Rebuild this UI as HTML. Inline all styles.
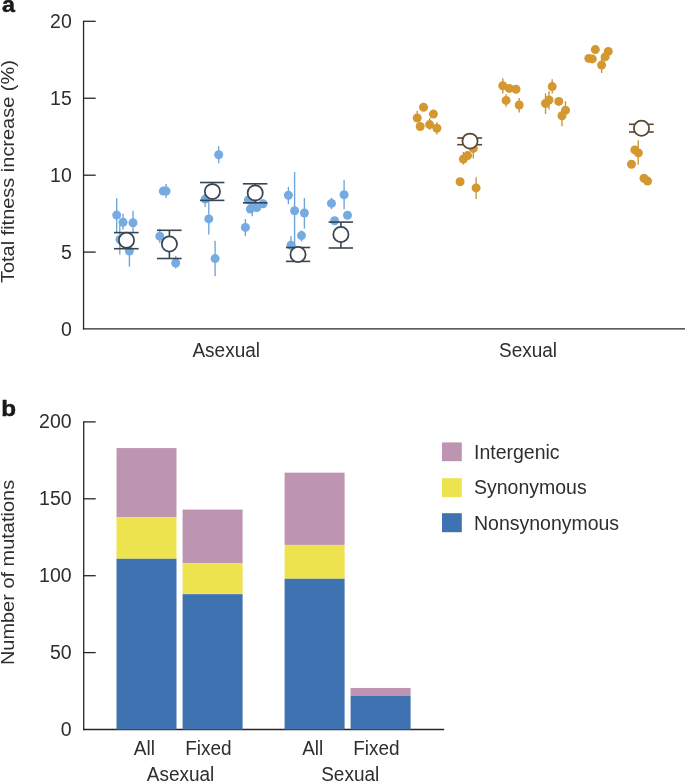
<!DOCTYPE html>
<html><head><meta charset="utf-8"><style>
html,body{margin:0;padding:0;background:#fff;}
svg{display:block;will-change:transform;}
text{font-family:"Liberation Sans",sans-serif;fill:#2e2e2e;}
.t{font-size:19px;}
.tk{font-size:19.5px;}
.lg{font-size:19.5px;}
.yl{font-size:19.2px;}
.pl{font-size:22px;font-weight:bold;fill:#1a1a1a;stroke:#1a1a1a;stroke-width:0.45px;}
</style></head><body>
<svg width="685" height="782" viewBox="0 0 685 782">
<rect width="685" height="782" fill="#fff"/>
<line x1="83.55" y1="20.7" x2="83.55" y2="329.55" stroke="#262626" stroke-width="1.3"/>
<line x1="82.9" y1="328.9" x2="685" y2="328.9" stroke="#262626" stroke-width="1.3"/>
<line x1="83.55" y1="21.3" x2="95.7" y2="21.3" stroke="#262626" stroke-width="1.3"/>
<text transform="translate(71.8,27.9) scale(1,1.06)" text-anchor="end" class="tk">20</text>
<line x1="83.55" y1="98.25" x2="95.7" y2="98.25" stroke="#262626" stroke-width="1.3"/>
<text transform="translate(71.8,104.85) scale(1,1.06)" text-anchor="end" class="tk">15</text>
<line x1="83.55" y1="175.2" x2="95.7" y2="175.2" stroke="#262626" stroke-width="1.3"/>
<text transform="translate(71.8,181.8) scale(1,1.06)" text-anchor="end" class="tk">10</text>
<line x1="83.55" y1="252.1" x2="95.7" y2="252.1" stroke="#262626" stroke-width="1.3"/>
<text transform="translate(71.8,258.7) scale(1,1.06)" text-anchor="end" class="tk">5</text>
<text transform="translate(71.8,335.65) scale(1,1.06)" text-anchor="end" class="tk">0</text>
<line x1="116.7" y1="198.3" x2="116.7" y2="232" stroke="#6ea4da" stroke-width="1.35"/>
<line x1="123" y1="213.6" x2="123" y2="229.7" stroke="#6ea4da" stroke-width="1.35"/>
<line x1="133" y1="210.7" x2="133" y2="232" stroke="#6ea4da" stroke-width="1.35"/>
<line x1="129.4" y1="247.6" x2="129.4" y2="266.6" stroke="#6ea4da" stroke-width="1.35"/>
<line x1="166.1" y1="184" x2="166.1" y2="197.9" stroke="#6ea4da" stroke-width="1.35"/>
<line x1="159.8" y1="229" x2="159.8" y2="243" stroke="#6ea4da" stroke-width="1.35"/>
<line x1="175.7" y1="255.9" x2="175.7" y2="268.6" stroke="#6ea4da" stroke-width="1.35"/>
<line x1="218.7" y1="146.3" x2="218.7" y2="163.3" stroke="#6ea4da" stroke-width="1.35"/>
<line x1="205.2" y1="195" x2="205.2" y2="207" stroke="#6ea4da" stroke-width="1.35"/>
<line x1="208.8" y1="201" x2="208.8" y2="234.6" stroke="#6ea4da" stroke-width="1.35"/>
<line x1="215.1" y1="240.7" x2="215.1" y2="276.2" stroke="#6ea4da" stroke-width="1.35"/>
<line x1="245.4" y1="219" x2="245.4" y2="236.2" stroke="#6ea4da" stroke-width="1.35"/>
<line x1="288.4" y1="186.8" x2="288.4" y2="204.3" stroke="#6ea4da" stroke-width="1.35"/>
<line x1="294.6" y1="172" x2="294.6" y2="246.5" stroke="#6ea4da" stroke-width="1.35"/>
<line x1="304.4" y1="197.9" x2="304.4" y2="228.6" stroke="#6ea4da" stroke-width="1.35"/>
<line x1="301.5" y1="230.5" x2="301.5" y2="241.4" stroke="#6ea4da" stroke-width="1.35"/>
<line x1="291" y1="236.3" x2="291" y2="250" stroke="#6ea4da" stroke-width="1.35"/>
<line x1="344.1" y1="180.1" x2="344.1" y2="209.2" stroke="#6ea4da" stroke-width="1.35"/>
<line x1="331.5" y1="197.6" x2="331.5" y2="209.2" stroke="#6ea4da" stroke-width="1.35"/>
<line x1="119.8" y1="224.5" x2="119.8" y2="254.5" stroke="#6ea4da" stroke-width="1.35"/>
<line x1="252.2" y1="205" x2="252.2" y2="216.2" stroke="#6ea4da" stroke-width="1.35"/>
<circle cx="116.7" cy="215.1" r="4.5" fill="#75abe0"/>
<circle cx="123" cy="222.2" r="4.5" fill="#75abe0"/>
<circle cx="133" cy="222.8" r="4.5" fill="#75abe0"/>
<circle cx="120" cy="239.5" r="4.5" fill="#75abe0"/>
<circle cx="129.4" cy="251" r="4.5" fill="#75abe0"/>
<circle cx="163.3" cy="191.1" r="4.5" fill="#75abe0"/>
<circle cx="166.1" cy="191.1" r="4.5" fill="#75abe0"/>
<circle cx="159.8" cy="236.2" r="4.5" fill="#75abe0"/>
<circle cx="175.7" cy="263" r="4.5" fill="#75abe0"/>
<circle cx="218.7" cy="154.7" r="4.5" fill="#75abe0"/>
<circle cx="205.2" cy="199.1" r="4.5" fill="#75abe0"/>
<circle cx="208.8" cy="218.9" r="4.5" fill="#75abe0"/>
<circle cx="215.1" cy="258.6" r="4.5" fill="#75abe0"/>
<circle cx="248.4" cy="199.9" r="4.5" fill="#75abe0"/>
<circle cx="253" cy="202.2" r="4.5" fill="#75abe0"/>
<circle cx="263" cy="203.7" r="4.5" fill="#75abe0"/>
<circle cx="256.8" cy="207.6" r="4.5" fill="#75abe0"/>
<circle cx="250.3" cy="209.1" r="4.5" fill="#75abe0"/>
<circle cx="245.4" cy="227.4" r="4.5" fill="#75abe0"/>
<circle cx="288.4" cy="195.3" r="4.5" fill="#75abe0"/>
<circle cx="294.6" cy="210.7" r="4.5" fill="#75abe0"/>
<circle cx="304.4" cy="213" r="4.5" fill="#75abe0"/>
<circle cx="301.5" cy="235.6" r="4.5" fill="#75abe0"/>
<circle cx="291" cy="245.2" r="4.5" fill="#75abe0"/>
<circle cx="344.1" cy="194.8" r="4.5" fill="#75abe0"/>
<circle cx="331.5" cy="203.4" r="4.5" fill="#75abe0"/>
<circle cx="347.5" cy="215.2" r="4.5" fill="#75abe0"/>
<circle cx="334.6" cy="220.7" r="4.5" fill="#75abe0"/>
<line x1="126.5" y1="232.6" x2="126.5" y2="248.7" stroke="#384552" stroke-width="1.6"/>
<line x1="114" y1="232.6" x2="138.6" y2="232.6" stroke="#384552" stroke-width="1.6"/>
<line x1="114" y1="248.7" x2="138.6" y2="248.7" stroke="#384552" stroke-width="1.6"/>
<circle cx="126.5" cy="240.3" r="7.6" fill="#fff" stroke="#384552" stroke-width="1.75"/>
<line x1="169.4" y1="230.3" x2="169.4" y2="258.5" stroke="#384552" stroke-width="1.6"/>
<line x1="157" y1="230.3" x2="181.6" y2="230.3" stroke="#384552" stroke-width="1.6"/>
<line x1="157" y1="258.5" x2="181.6" y2="258.5" stroke="#384552" stroke-width="1.6"/>
<circle cx="169.4" cy="244" r="7.6" fill="#fff" stroke="#384552" stroke-width="1.75"/>
<line x1="212.4" y1="182.5" x2="212.4" y2="200.4" stroke="#384552" stroke-width="1.6"/>
<line x1="199.9" y1="182.5" x2="224.4" y2="182.5" stroke="#384552" stroke-width="1.6"/>
<line x1="199.9" y1="200.4" x2="224.4" y2="200.4" stroke="#384552" stroke-width="1.6"/>
<circle cx="212.4" cy="191.6" r="7.6" fill="#fff" stroke="#384552" stroke-width="1.75"/>
<line x1="255.2" y1="183.8" x2="255.2" y2="202.8" stroke="#384552" stroke-width="1.6"/>
<line x1="242.9" y1="183.8" x2="267.4" y2="183.8" stroke="#384552" stroke-width="1.6"/>
<line x1="242.9" y1="202.8" x2="267.4" y2="202.8" stroke="#384552" stroke-width="1.6"/>
<circle cx="255.2" cy="192.9" r="7.6" fill="#fff" stroke="#384552" stroke-width="1.75"/>
<line x1="298" y1="247.5" x2="298" y2="261.4" stroke="#384552" stroke-width="1.6"/>
<line x1="285.9" y1="247.5" x2="310.2" y2="247.5" stroke="#384552" stroke-width="1.6"/>
<line x1="285.9" y1="261.4" x2="310.2" y2="261.4" stroke="#384552" stroke-width="1.6"/>
<circle cx="298" cy="254.5" r="7.6" fill="#fff" stroke="#384552" stroke-width="1.75"/>
<line x1="340.9" y1="222.1" x2="340.9" y2="248" stroke="#384552" stroke-width="1.6"/>
<line x1="328.6" y1="222.1" x2="353" y2="222.1" stroke="#384552" stroke-width="1.6"/>
<line x1="328.6" y1="248" x2="353" y2="248" stroke="#384552" stroke-width="1.6"/>
<circle cx="340.9" cy="234.5" r="7.6" fill="#fff" stroke="#384552" stroke-width="1.75"/>
<line x1="417.2" y1="110.8" x2="417.2" y2="122" stroke="#c6923a" stroke-width="1.35"/>
<line x1="429.6" y1="118" x2="429.6" y2="129.8" stroke="#c6923a" stroke-width="1.35"/>
<line x1="436.9" y1="122.3" x2="436.9" y2="134.4" stroke="#c6923a" stroke-width="1.35"/>
<line x1="473.3" y1="140" x2="473.3" y2="158.6" stroke="#c6923a" stroke-width="1.35"/>
<line x1="463.4" y1="152" x2="463.4" y2="164.6" stroke="#c6923a" stroke-width="1.35"/>
<line x1="476.1" y1="177.3" x2="476.1" y2="198.9" stroke="#c6923a" stroke-width="1.35"/>
<line x1="502.8" y1="78.2" x2="502.8" y2="93.6" stroke="#c6923a" stroke-width="1.35"/>
<line x1="506.1" y1="94.2" x2="506.1" y2="106.8" stroke="#c6923a" stroke-width="1.35"/>
<line x1="519.2" y1="98" x2="519.2" y2="112.6" stroke="#c6923a" stroke-width="1.35"/>
<line x1="552.2" y1="79.2" x2="552.2" y2="93.6" stroke="#c6923a" stroke-width="1.35"/>
<line x1="549" y1="91.2" x2="549" y2="109.5" stroke="#c6923a" stroke-width="1.35"/>
<line x1="545.5" y1="93.3" x2="545.5" y2="114" stroke="#c6923a" stroke-width="1.35"/>
<line x1="565.5" y1="101.4" x2="565.5" y2="112" stroke="#c6923a" stroke-width="1.35"/>
<line x1="562" y1="110" x2="562" y2="126.3" stroke="#c6923a" stroke-width="1.35"/>
<line x1="601.6" y1="58" x2="601.6" y2="73" stroke="#c6923a" stroke-width="1.35"/>
<line x1="638.2" y1="140.2" x2="638.2" y2="164.7" stroke="#c6923a" stroke-width="1.35"/>
<circle cx="423.5" cy="107.2" r="4.5" fill="#d49831"/>
<circle cx="433.4" cy="114.1" r="4.5" fill="#d49831"/>
<circle cx="417.2" cy="118" r="4.5" fill="#d49831"/>
<circle cx="420.2" cy="126.5" r="4.5" fill="#d49831"/>
<circle cx="429.6" cy="124.6" r="4.5" fill="#d49831"/>
<circle cx="436.9" cy="128.2" r="4.5" fill="#d49831"/>
<circle cx="473.3" cy="148.4" r="4.5" fill="#d49831"/>
<circle cx="463.4" cy="159.1" r="4.5" fill="#d49831"/>
<circle cx="467.6" cy="155.6" r="4.5" fill="#d49831"/>
<circle cx="460.1" cy="181.8" r="4.5" fill="#d49831"/>
<circle cx="476.1" cy="187.9" r="4.5" fill="#d49831"/>
<circle cx="502.8" cy="85.8" r="4.5" fill="#d49831"/>
<circle cx="509.3" cy="88.4" r="4.5" fill="#d49831"/>
<circle cx="516" cy="89.3" r="4.5" fill="#d49831"/>
<circle cx="506.1" cy="100.4" r="4.5" fill="#d49831"/>
<circle cx="519.2" cy="105" r="4.5" fill="#d49831"/>
<circle cx="552.2" cy="86.6" r="4.5" fill="#d49831"/>
<circle cx="549" cy="100" r="4.5" fill="#d49831"/>
<circle cx="545.5" cy="103.5" r="4.5" fill="#d49831"/>
<circle cx="558.8" cy="101.4" r="4.5" fill="#d49831"/>
<circle cx="565.5" cy="110.2" r="4.5" fill="#d49831"/>
<circle cx="562" cy="115.8" r="4.5" fill="#d49831"/>
<circle cx="595.3" cy="49.6" r="4.5" fill="#d49831"/>
<circle cx="588.8" cy="58.4" r="4.5" fill="#d49831"/>
<circle cx="592.3" cy="58.9" r="4.5" fill="#d49831"/>
<circle cx="608.3" cy="51.4" r="4.5" fill="#d49831"/>
<circle cx="605.1" cy="56.9" r="4.5" fill="#d49831"/>
<circle cx="601.6" cy="65.1" r="4.5" fill="#d49831"/>
<circle cx="634.8" cy="149.9" r="4.5" fill="#d49831"/>
<circle cx="638.4" cy="152.9" r="4.5" fill="#d49831"/>
<circle cx="631.5" cy="164.2" r="4.5" fill="#d49831"/>
<circle cx="644" cy="178.3" r="4.5" fill="#d49831"/>
<circle cx="647.6" cy="181.1" r="4.5" fill="#d49831"/>
<line x1="470" y1="138" x2="470" y2="144.7" stroke="#5a4633" stroke-width="1.6"/>
<line x1="457.2" y1="138" x2="482.1" y2="138" stroke="#5a4633" stroke-width="1.6"/>
<line x1="457.2" y1="144.7" x2="482.1" y2="144.7" stroke="#5a4633" stroke-width="1.6"/>
<circle cx="470" cy="141.1" r="7.6" fill="#fff" stroke="#5a4633" stroke-width="1.75"/>
<line x1="641.5" y1="124.3" x2="641.5" y2="132" stroke="#5a4633" stroke-width="1.6"/>
<line x1="629" y1="124.3" x2="653.7" y2="124.3" stroke="#5a4633" stroke-width="1.6"/>
<line x1="629" y1="132" x2="653.7" y2="132" stroke="#5a4633" stroke-width="1.6"/>
<circle cx="641.5" cy="128.2" r="7.6" fill="#fff" stroke="#5a4633" stroke-width="1.75"/>
<line x1="83.7" y1="421.25" x2="83.7" y2="730.15" stroke="#262626" stroke-width="1.3"/>
<line x1="83.05" y1="729.5" x2="444.2" y2="729.5" stroke="#262626" stroke-width="1.3"/>
<line x1="83.7" y1="421.9" x2="95.7" y2="421.9" stroke="#262626" stroke-width="1.3"/>
<text transform="translate(71.6,428.2) scale(1,1.06)" text-anchor="end" class="tk">200</text>
<line x1="83.7" y1="498.8" x2="95.7" y2="498.8" stroke="#262626" stroke-width="1.3"/>
<text transform="translate(71.6,505.1) scale(1,1.06)" text-anchor="end" class="tk">150</text>
<line x1="83.7" y1="575.7" x2="95.7" y2="575.7" stroke="#262626" stroke-width="1.3"/>
<text transform="translate(71.6,582) scale(1,1.06)" text-anchor="end" class="tk">100</text>
<line x1="83.7" y1="652.6" x2="95.7" y2="652.6" stroke="#262626" stroke-width="1.3"/>
<text transform="translate(71.6,658.9) scale(1,1.06)" text-anchor="end" class="tk">50</text>
<text transform="translate(71.6,735.8) scale(1,1.06)" text-anchor="end" class="tk">0</text>
<rect x="116.5" y="448.05" width="60" height="69.21" fill="#be95b1"/>
<rect x="116.5" y="517.26" width="60" height="41.53" fill="#ece34f"/>
<rect x="116.5" y="558.78" width="60" height="170.72" fill="#3f72b0"/>
<rect x="182.6" y="509.57" width="60" height="53.83" fill="#be95b1"/>
<rect x="182.6" y="563.4" width="60" height="30.76" fill="#ece34f"/>
<rect x="182.6" y="594.16" width="60" height="135.34" fill="#3f72b0"/>
<rect x="284.6" y="472.65" width="60" height="72.29" fill="#be95b1"/>
<rect x="284.6" y="544.94" width="60" height="33.84" fill="#ece34f"/>
<rect x="284.6" y="578.78" width="60" height="150.72" fill="#3f72b0"/>
<rect x="350.6" y="687.97" width="60" height="7.69" fill="#be95b1"/>
<rect x="350.6" y="695.66" width="60" height="33.84" fill="#3f72b0"/>
<rect x="442" y="442.4" width="19.8" height="18.8" fill="#be95b1"/>
<rect x="442" y="478.2" width="19.8" height="19" fill="#ece34f"/>
<rect x="442" y="513.2" width="19.8" height="19" fill="#3f72b0"/>
<text transform="translate(474,458.8) scale(1,1.04)" text-anchor="start" class="lg">Intergenic</text>
<text transform="translate(474,494.3) scale(1,1.04)" text-anchor="start" class="lg">Synonymous</text>
<text transform="translate(474,529.6) scale(1,1.04)" text-anchor="start" class="lg">Nonsynonymous</text>
<text transform="translate(226.2,356.6) scale(1,1.07)" text-anchor="middle" class="t">Asexual</text>
<text transform="translate(528,356.6) scale(1,1.07)" text-anchor="middle" class="t">Sexual</text>
<text transform="translate(144.3,754.7) scale(1,1.07)" text-anchor="middle" class="t">All</text>
<text transform="translate(208.4,754.7) scale(1,1.07)" text-anchor="middle" class="t">Fixed</text>
<text transform="translate(312.7,754.7) scale(1,1.07)" text-anchor="middle" class="t">All</text>
<text transform="translate(376.4,754.7) scale(1,1.07)" text-anchor="middle" class="t">Fixed</text>
<text transform="translate(180.5,780.5) scale(1,1.07)" text-anchor="middle" class="t">Asexual</text>
<text transform="translate(350.2,780.5) scale(1,1.07)" text-anchor="middle" class="t">Sexual</text>
<text transform="translate(13.9,171.6) rotate(-90) scale(1.04,1)" text-anchor="middle" class="yl">Total fitness increase (%)</text>
<text transform="translate(14.1,572.5) rotate(-90) scale(1.04,1)" text-anchor="middle" class="yl">Number of mutations</text>
<text transform="translate(1.9,12) scale(1.06,1)" class="pl">a</text>
<text transform="translate(1.3,415.8) scale(1.1,1)" class="pl">b</text>
</svg>
</body></html>
